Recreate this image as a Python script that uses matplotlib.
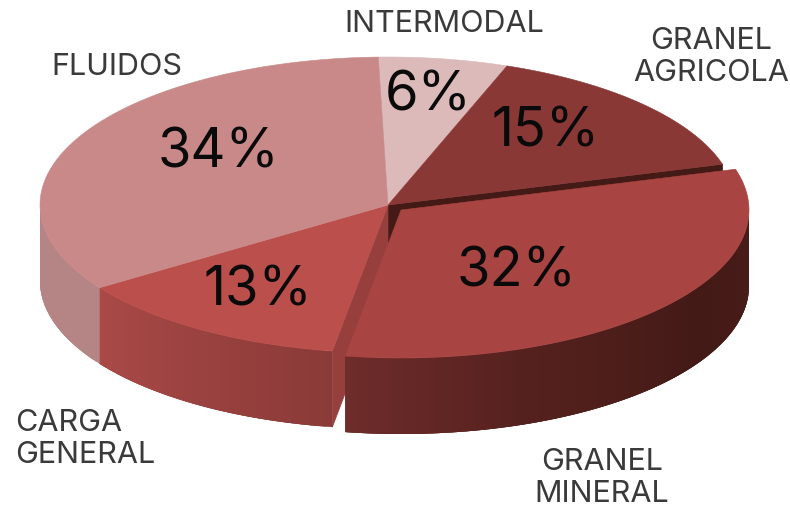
#!/usr/bin/env python3
"""3D style pie of cargo shares, drawn in pixel coordinates."""
import numpy as np
import matplotlib
matplotlib.use("Agg")
import matplotlib.pyplot as plt
from matplotlib.colors import to_rgb
from matplotlib.patches import Polygon

categories = ["INTERMODAL", "GRANEL\nAGRICOLA", "GRANEL\nMINERAL", "CARGA\nGENERAL", "FLUIDOS"]
shares = [6, 15, 32, 13, 34]

top_colors = ["#dcbaba", "#8a3836", "#a84441", "#ba4f4c", "#c98989"]
# side gradient stops per slice: (angle fraction inside slice, colour)
side_stops = {
    2: [(0.0, "#4a1d19"), (0.32, "#431a16"), (0.7, "#55211e"), (1.0, "#6e2c2b")],
    3: [(0.0, "#8a3a38"), (1.0, "#aa4a47")],
    4: [(0.0, "#b58585"), (1.0, "#b58585")],
}
offsets = [(0, 0), (0, 0), (13, 5), (0, 0), (0, 0)]
label_pos = [(444, 24), (711, 57), (602, 478), (85, 439), (117, 67)]
label_ma = ["center", "center", "center", "left", "center"]
pct_pos = [(428, 96), (546, 132), (516, 272), (258, 291), (218, 153)]

CX, CY = 388, 205
RX, RY = 348, 148
DEPTH = 76
START = -1.6

plt.rcParams["font.family"] = ["Inter", "DejaVu Sans"]

fig = plt.figure(figsize=(7.9, 5.07), dpi=100)
ax = fig.add_axes([0, 0, 1, 1])
ax.set_xlim(0, 790)
ax.set_ylim(507, 0)
ax.axis("off")

edges = START + np.cumsum([0] + shares) * 3.6


def rim(t_deg, off=(0, 0)):
    t = np.radians(t_deg)
    return CX + off[0] + RX * np.sin(t), CY + off[1] - RY * np.cos(t)


def radial_wall(t_deg, color, z):
    x, y = rim(t_deg)
    pts = [(CX, CY), (x, y), (x, y + DEPTH), (CX, CY + DEPTH)]
    ax.add_patch(Polygon(pts, closed=True, fc=color, ec=color, lw=0.5, zorder=z))


# walls left open by the pulled out slice
radial_wall(edges[2], "#431a16", 1)
radial_wall(edges[3], "#963f3d", 2)

# curved sides, only the part that faces the viewer
for i in side_stops:
    a = max(edges[i], 90)
    b = min(edges[i + 1], 270)
    ts = np.linspace(a, b, int(b - a) + 2)
    stops = side_stops[i]
    fr = [s[0] for s in stops]
    rgb = np.array([to_rgb(s[1]) for s in stops])
    for t0, t1 in zip(ts[:-1], ts[1:]):
        f = (0.5 * (t0 + t1) - a) / (b - a)
        c = [np.interp(f, fr, rgb[:, k]) for k in range(3)]
        # each strip runs on under the next one so no seam shows
        arc = np.linspace(t0, min(t1 + 2, b), 8)
        xs, ys = rim(arc, offsets[i])
        pts = np.vstack([np.column_stack([xs, ys]),
                         np.column_stack([xs[::-1], ys[::-1] + DEPTH])])
        ax.add_patch(Polygon(pts, closed=True, fc=c, ec="none", zorder=3))

# top faces
for i, share in enumerate(shares):
    ts = np.linspace(edges[i], edges[i + 1], 120)
    xs, ys = rim(ts, offsets[i])
    pts = np.vstack([[CX + offsets[i][0], CY + offsets[i][1]], np.column_stack([xs, ys])])
    ax.add_patch(Polygon(pts, closed=True, fc=top_colors[i], ec=top_colors[i], lw=0.4, zorder=4))
    ax.text(*pct_pos[i], f"{share}%", fontsize=39, color="#0a0a0a", ha="center",
            va="center", zorder=5)
    ax.text(*label_pos[i], categories[i], fontsize=22, color="#3a3a3a", ha="center",
            va="center", multialignment=label_ma[i], linespacing=1.15, zorder=5)

fig.savefig("out.png", dpi=100)
